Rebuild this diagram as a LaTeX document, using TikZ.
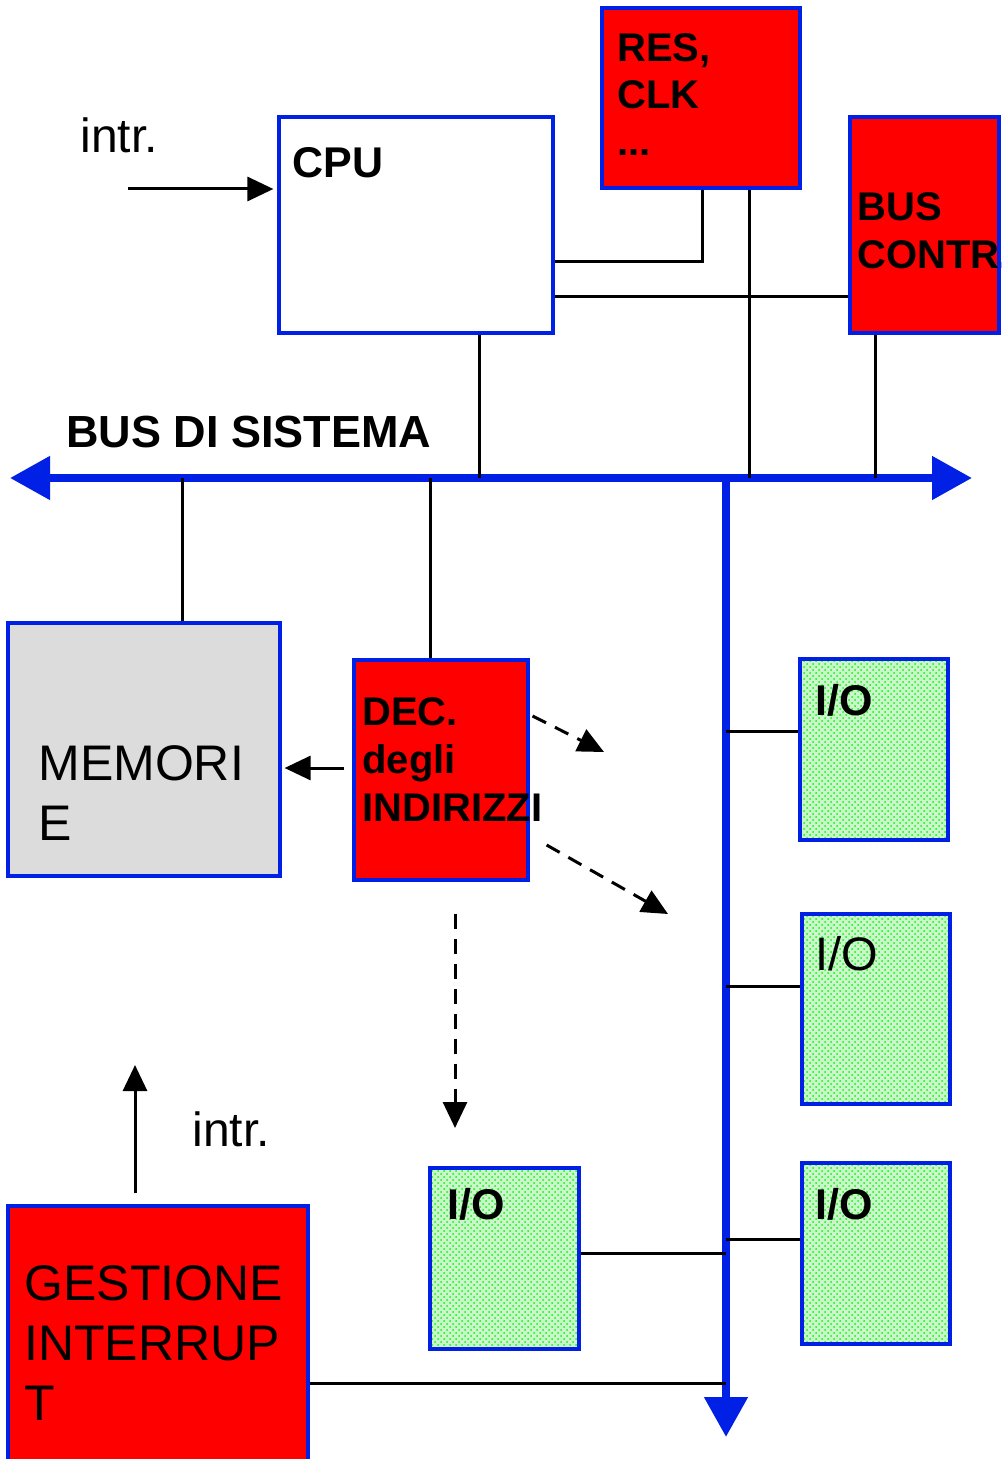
\documentclass[tikz,border=0pt]{standalone}
\usepackage{fontspec}
\setmainfont{Liberation Sans}
\usepackage{tikz}
\usetikzlibrary{arrows.meta}
\usetikzlibrary{patterns}
\usetikzlibrary{calc}
\definecolor{busblue}{RGB}{0,32,230}
\definecolor{memgray}{RGB}{220,220,220}
\definecolor{iogreen}{RGB}{205,245,205}

\begin{document}
\begin{tikzpicture}[
    x=0.5pt, y=-0.5pt,
    %% ── Node styles ─────────────────────────────────────────────
    cpubox/.style={draw=busblue, line width=1.6pt, fill=white, inner sep=0pt,
                   minimum width=137pt, minimum height=108pt},
    redbox/.style={draw=busblue, line width=1.6pt, fill=red, inner sep=0pt},
    membox/.style={draw=busblue, line width=1.6pt, fill=memgray, inner sep=0pt,
                   minimum width=136pt, minimum height=126.5pt},
    iobox/.style ={draw=busblue, line width=1.6pt, preaction={fill=iogreen},
                   pattern=crosshatch dots, pattern color=green, inner sep=0pt,
                   minimum width=74pt, minimum height=90.5pt},
    btxt/.style  ={inner sep=0pt, align=left, font=\fontsize{21.5}{24}\selectfont\bfseries},
    rtxt/.style  ={inner sep=0pt, align=left, font=\fontsize{25}{30}\selectfont},
    %% ── Line styles ─────────────────────────────────────────────
    wire/.style  ={line width=1.5pt, black},
    arr/.style   ={wire, -{Triangle[length=13pt, width=12pt]}},
    dasharr/.style={arr, dash pattern=on 7.5pt off 5pt},
    bus/.style   ={line width=4pt, busblue},
    bustip/.style={{Triangle[length=20pt, width=21pt]}-{Triangle[length=20pt, width=21pt]}}
]
    \useasboundingbox (0,0) rectangle (1001,1459);

    %% ── Boxes ──────────────────────────────────────────────────
    \node[cpubox] (cpu)  at (416,225)    {};
    \node[redbox, minimum width=99pt, minimum height=90pt]    (res)  at (701,98)    {};
    \node[redbox, minimum width=74.5pt, minimum height=108pt] (bctl) at (924.5,225) {};
    \node[membox] (mem)  at (144,749.5)  {};
    \node[redbox, minimum width=87pt, minimum height=110pt]   (dec)  at (441,770)   {};
    \node[iobox]  (io1)  at (874,749.5)  {};
    \node[iobox, minimum height=95pt]   (io2)  at (876,1009)   {};
    \node[iobox]  (io3)  at (876,1253.5) {};
    \node[iobox, minimum width=74.5pt]  (io4)  at (504.5,1258.5) {};
    \node[redbox, minimum width=150pt, minimum height=132pt]  (gest) at (158,1338)  {};

    %% ── Texts ──────────────────────────────────────────────────
    \node[btxt, anchor=base west] (cputxt) at (292,178) {CPU};
    \node[btxt, anchor=north west, font=\fontsize{20}{23.5}\selectfont\bfseries] (restxt) at (617,33) {RES,\\CLK\\...};
    \node[btxt, anchor=north west, font=\fontsize{20}{24}\selectfont\bfseries] (bctltxt) at (857,192) {BUS\\CONTR.};
    \node[btxt, anchor=north west, font=\fontsize{20}{24}\selectfont\bfseries] (dectxt) at (362,697) {DEC.\\degli\\INDIRIZZI};
    \node[btxt, anchor=base west, font=\fontsize{22.5}{24}\selectfont\bfseries] (bustxt) at (66,448) {BUS DI SISTEMA};
    \node[btxt, anchor=base west] (io1txt) at (815,715)  {I/O};
    \node[rtxt, anchor=base west, font=\fontsize{23.5}{28}\selectfont] (io2txt) at (815,970) {I/O};
    \node[btxt, anchor=base west] (io3txt) at (815,1219) {I/O};
    \node[btxt, anchor=base west] (io4txt) at (447,1219) {I/O};
    \node[rtxt, anchor=north west] (memtxt)  at (38,745)   {MEMORI\\E};
    \node[rtxt, anchor=north west] (gesttxt) at (24,1265)  {GESTIONE\\INTERRUP\\T};
    \node[rtxt, anchor=base west, font=\fontsize{24}{28}\selectfont] (intrtop) at (80,153)  {intr.};
    \node[rtxt, anchor=base west, font=\fontsize{24}{28}\selectfont] (intrbot) at (192,1146) {intr.};

    %% ── Bus ────────────────────────────────────────────────────
    \coordinate (busL) at (10,478);
    \coordinate (busR) at (972,478);
    \coordinate (busT) at (726,476);
    \coordinate (busB) at (726,1437);
    \draw[bus, bustip] (busL) -- (busR);
    \draw[bus, -{Triangle[length=20pt, width=21pt]}] (busT) -- (busB);

    %% ── Wires to the bus ───────────────────────────────────────
    \coordinate (cpuw)  at ($(cpu.south)+(63,0)$);
    \coordinate (resw)  at ($(res.south)+(48,0)$);
    \coordinate (bctlw) at ($(bctl.south)+(-49.5,0)$);
    \coordinate (memw)  at ($(mem.north)+(38,0)$);
    \coordinate (decw)  at ($(dec.north)+(-11,0)$);
    \draw[wire] (cpuw)  -- (cpuw |- busL);
    \draw[wire] (resw)  -- (resw |- busL);
    \draw[wire] (bctlw) -- (bctlw |- busL);
    \draw[wire] (memw |- busL) -- (memw);
    \draw[wire] (decw |- busL) -- (decw);

    \coordinate (cpub) at ($(cpu.east)+(0,72)$);
    \draw[wire] ($(cpu.east)+(0,37)$) -| ($(res.south)+(1,0)$);
    \draw[wire] (cpub) -- (cpub -| bctl.west);

    \coordinate (io1w) at ($(io1.west)+(0,-18.5)$);
    \coordinate (io2w) at ($(io2.west)+(0,-23)$);
    \coordinate (io3w) at ($(io3.west)+(0,-14.5)$);
    \coordinate (io4e) at ($(io4.east)+(0,-5.5)$);
    \coordinate (geste) at ($(gest.east)+(0,45)$);
    \draw[wire] (io1w -| busT) -- (io1w);
    \draw[wire] (io2w -| busT) -- (io2w);
    \draw[wire] (io3w -| busT) -- (io3w);
    \draw[wire] (io4e) -- (io4e -| busT);
    \draw[wire] (geste) -- (geste -| busT);

    %% ── Arrows ─────────────────────────────────────────────────
    \coordinate (decl) at ($(dec.west)+(-8,-2)$);
    \coordinate (meme) at ($(mem.east)+(3,0)$);
    \draw[arr] (decl) -- (decl -| meme);

    \coordinate (dtipa) at (604,752);
    \coordinate (dtipb) at (668,914);
    \coordinate (dtipc) at (455,1128);
    \draw[dasharr] ($(dec.east)+(3,-54)$) -- (dtipa);
    \draw[dasharr] ($(dec.east)+(17,75)$) -- (dtipb);
    \draw[dasharr] ($(dec.south)+(14,32)$) -- (dtipc);

    \coordinate (intrin) at (128,189);
    \coordinate (intrup) at (135,1065);
    \draw[arr] (intrin) -- ($(cpu.west)+(-4,-36)$);
    \draw[arr] ($(gest.north)+(-23,-11)$) -- (intrup);

\end{tikzpicture}
\end{document}
